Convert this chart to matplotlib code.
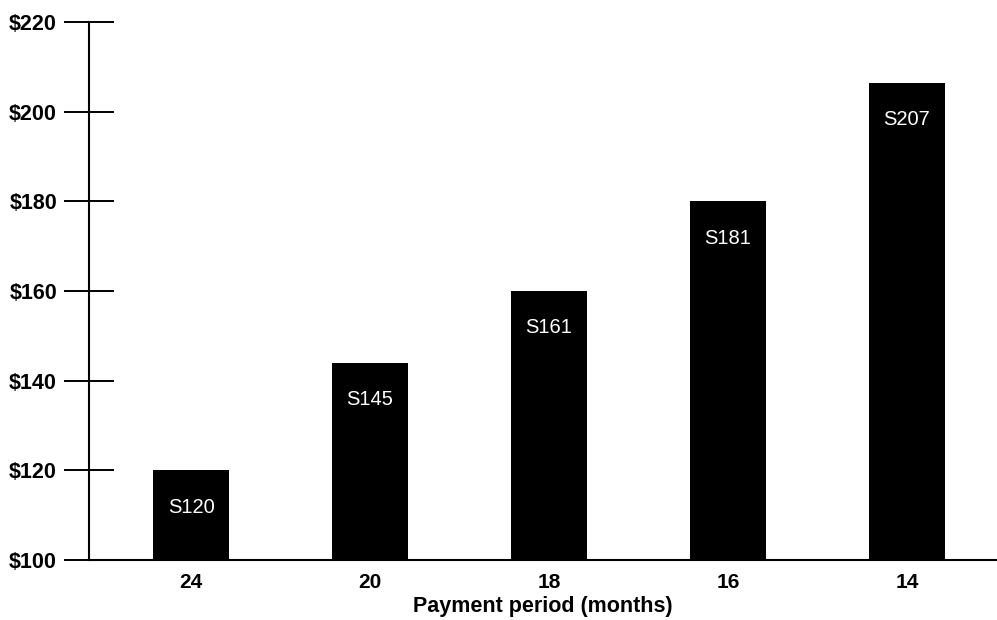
import matplotlib

matplotlib.use("Agg")
import matplotlib.pyplot as plt

periods = ["24", "20", "18", "16", "14"]
heights = [120, 144, 160, 180, 206.5]
bar_labels = ["S120", "S145", "S161", "S181", "S207"]
y_ticks = [100, 120, 140, 160, 180, 200, 220]
y_tick_labels = ["$100", "$120", "$140", "$160", "$180", "$200", "$220"]

plt.rcParams["font.family"] = ["Liberation Sans", "DejaVu Sans"]

fig = plt.figure(figsize=(9.97, 6.2), dpi=100)
ax = fig.add_axes([89 / 997, 1 - 560 / 620, 1 - 89 / 997, (560 - 22) / 620])

x = list(range(len(periods)))
bars = ax.bar(x, [h - 100 for h in heights], bottom=100, width=0.425, color="black")

for rect, label in zip(bars, bar_labels):
    ax.annotate(
        label,
        (rect.get_x() + rect.get_width() / 2, rect.get_y() + rect.get_height()),
        xytext=(0, -26.5),
        textcoords="offset points",
        ha="center",
        va="center",
        color="white",
        fontsize=14.5,
    )

ax.set_xlim(-0.57, 4.503)
ax.set_ylim(100, 220)
ax.set_yticks(y_ticks)
ax.set_yticklabels(y_tick_labels, fontsize=15.5, fontweight="bold")
ax.set_xticks(x)
ax.set_xticklabels(periods, fontsize=15, fontweight="bold")
ax.tick_params(axis="y", direction="inout", length=36, width=1.4, pad=5)
ax.tick_params(axis="x", length=0, pad=9)
ax.set_xlabel("Payment period (months)", fontsize=15.5, fontweight="bold", labelpad=3)

for side in ("top", "right"):
    ax.spines[side].set_visible(False)
ax.spines["left"].set_linewidth(1.5)
ax.spines["bottom"].set_linewidth(1.5)

fig.savefig("out.png", dpi=100)
